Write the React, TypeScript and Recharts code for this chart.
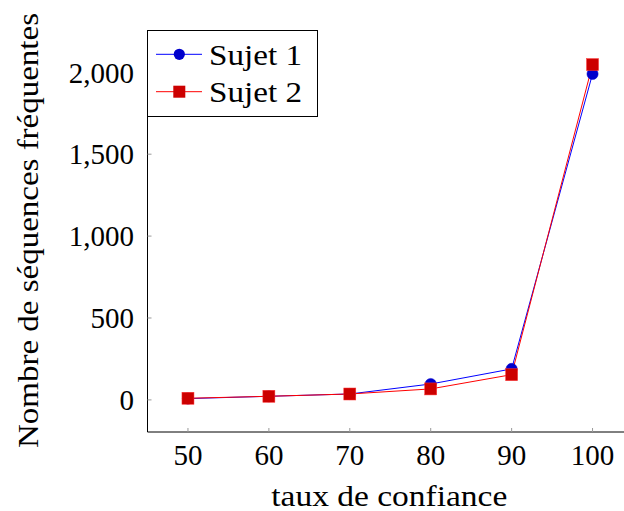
import React from 'react';
import { LineChart, Line, XAxis, YAxis } from 'recharts';

const confidence = [50, 60, 70, 80, 90, 100];
const sujet1 = [8, 22, 36, 97, 189, 1990];
const sujet2 = [10, 22, 36, 67, 154, 2047];
const xTicks = [50, 60, 70, 80, 90, 100];
const yTicks = [0, 500, 1000, 1500, 2000];
const seriesNames = ['Sujet 1', 'Sujet 2'];

const data = confidence.map((c, i) => ({ x: c, s1: sujet1[i], s2: sujet2[i] }));

const FONT = '"Liberation Serif", "DejaVu Serif", serif';
const FS = 29;
const fmt = (v: number) => v.toLocaleString('en-US');

const BlueDot = (p: any) => (
  <circle cx={p.cx} cy={p.cy} r={5.6} fill="#0000cc" stroke="#0000cc" strokeWidth={0.5} />
);
const RedSquare = (p: any) => (
  <rect x={p.cx - 6} y={p.cy - 6} width={12} height={12} fill="#cc0000" stroke="#ff3333" strokeWidth={0.5} />
);

const LegendBox = () => (
  <svg
    width={172}
    height={88}
    style={{ position: 'absolute', left: 147, top: 30, overflow: 'visible' }}
  >
    <rect x={0.5} y={0.5} width={170} height={86} fill="#fff" stroke="#000" strokeWidth={1} />
    <line x1={9} y1={24.3} x2={55} y2={24.3} stroke="#0000ff" strokeWidth={1} />
    <circle cx={32.3} cy={24.3} r={5.6} fill="#0000cc" />
    <text x={62} y={35} fontFamily={FONT} fontSize={FS} fill="#000" textLength={93} lengthAdjust="spacingAndGlyphs">
      {seriesNames[0]}
    </text>
    <line x1={9} y1={61.7} x2={55} y2={61.7} stroke="#ff0000" strokeWidth={1} />
    <rect x={26.3} y={55.7} width={12} height={12} fill="#cc0000" />
    <text x={62} y={71.7} fontFamily={FONT} fontSize={FS} fill="#000" textLength={93} lengthAdjust="spacingAndGlyphs">
      {seriesNames[1]}
    </text>
  </svg>
);

export default function App() {
  return (
    <div style={{ position: 'absolute', left: 0, top: 0, width: 624, height: 511, overflow: 'hidden', background: '#fff' }}>
      <LineChart width={640} height={511} data={data} margin={{ top: 31, right: 7, bottom: 0, left: 0 }}>
        <XAxis
          xAxisId="b"
          dataKey="x"
          type="number"
          domain={[45, 105]}
          ticks={xTicks}
          height={79}
          stroke="#000"
          tickSize={-4}
          tickMargin={16.5}
          tickLine={{ stroke: '#999' }}
          tick={{ fill: '#000', fontFamily: FONT, fontSize: FS }}
          allowDataOverflow
          label={{
            content: (p: any) => (
              <text
                x={p.viewBox.x + p.viewBox.width / 2 - 1}
                y={506}
                textAnchor="middle"
                fontFamily={FONT}
                fontSize={FS}
                fill="#000"
                textLength={236}
                lengthAdjust="spacingAndGlyphs"
              >
                taux de confiance
              </text>
            ),
          }}
        />
        <XAxis
          xAxisId="t"
          dataKey="x"
          type="number"
          orientation="top"
          domain={[45, 105]}
          ticks={xTicks}
          height={0}
          stroke="#000"
          tickSize={-4}
          tickLine={{ stroke: '#999' }}
          tick={false}
          allowDataOverflow
        />
        <YAxis
          yAxisId="l"
          type="number"
          domain={[-196, 2252]}
          ticks={yTicks}
          width={147.5}
          stroke="#000"
          tickSize={-4}
          tickMargin={17.5}
          tickFormatter={fmt}
          tickLine={{ stroke: '#999' }}
          tick={{ fill: '#000', fontFamily: FONT, fontSize: FS }}
          allowDataOverflow
          label={{
            content: (p: any) => {
              const cx = 38;
              const cy = 230.5;
              return (
                <text
                  x={cx}
                  y={cy}
                  transform={`rotate(-90 ${cx} ${cy})`}
                  textAnchor="middle"
                  fontFamily={FONT}
                  fontSize={FS}
                  fill="#000"
                  textLength={435}
                  lengthAdjust="spacingAndGlyphs"
                >
                  Nombre de séquences fréquentes
                </text>
              );
            },
          }}
        />
        <YAxis
          yAxisId="r"
          type="number"
          orientation="right"
          domain={[-196, 2252]}
          ticks={yTicks}
          width={0}
          stroke="#000"
          tickSize={-4}
          tickLine={{ stroke: '#999' }}
          tick={false}
          allowDataOverflow
        />
        <Line
          xAxisId="b"
          yAxisId="l"
          dataKey="s1"
          name={seriesNames[0]}
          stroke="#0000ff"
          strokeWidth={1}
          dot={<BlueDot />}
          activeDot={false}
          isAnimationActive={false}
        />
        <Line
          xAxisId="b"
          yAxisId="l"
          dataKey="s2"
          name={seriesNames[1]}
          stroke="#ff0000"
          strokeWidth={1}
          dot={<RedSquare />}
          activeDot={false}
          isAnimationActive={false}
        />
      </LineChart>
      <LegendBox />
    </div>
  );
}
